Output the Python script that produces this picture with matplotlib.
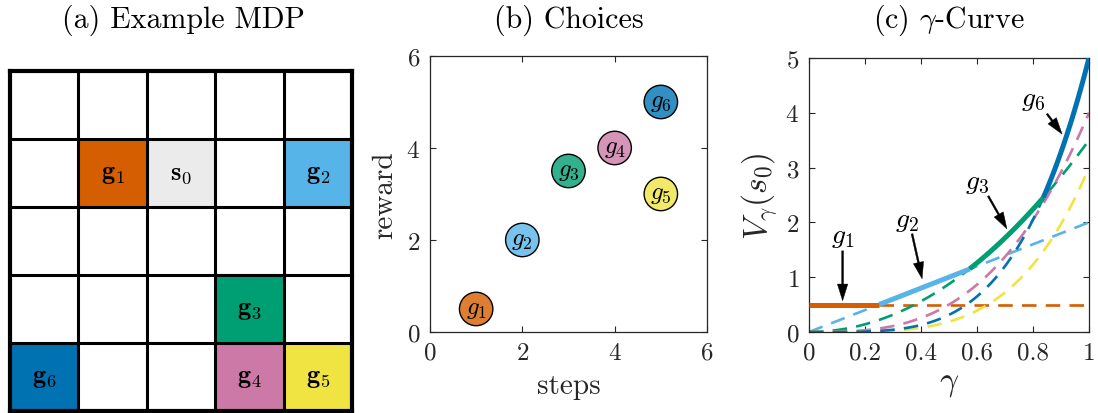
import numpy as np
import matplotlib
matplotlib.use("Agg")
import matplotlib.pyplot as plt
from matplotlib.patches import Rectangle

plt.rcParams['font.family'] = 'serif'
plt.rcParams['font.serif'] = ['cmr10']
plt.rcParams['mathtext.fontset'] = 'cm'
plt.rcParams['axes.formatter.use_mathtext'] = True
plt.rcParams['axes.unicode_minus'] = False

# ---- data ----
goal_names = ['g1', 'g2', 'g3', 'g4', 'g5', 'g6']
steps = [1, 2, 3, 4, 5, 5]
reward = [0.5, 2.0, 3.5, 4.0, 3.0, 5.0]
goal_colors = ['#D55E00', '#56B4E9', '#009E73', '#CC79A7', '#F0E442', '#0072B2']
# grid positions (row from top, col from left) of goals in the 5x5 MDP
goal_rows = [1, 1, 3, 4, 4, 4]
goal_cols = [1, 4, 3, 3, 4, 0]
start_row, start_col = 1, 2
grid_n = 5
# optimal goal per gamma interval (indices into goals)
envelope_order = [0, 1, 2, 5]

fig = plt.figure(figsize=(10.98, 4.14), dpi=100)
axcol = '#262626'
title_fs = 21.5
tick_fs = 18

# ---- (a) grid ----
axa = fig.add_axes([0.0091, 0.0048, 0.3115, 0.821])
axa.set_xlim(0, grid_n)
axa.set_ylim(grid_n, 0)
axa.axis('off')
for i, (r, c) in enumerate(zip(goal_rows, goal_cols)):
    axa.add_patch(Rectangle((c, r), 1, 1, facecolor=goal_colors[i], edgecolor='none'))
    axa.text(c + 0.5, r + 0.5, r'$\mathbf{g}_{\mathbf{%d}}$' % (i + 1), ha='center', va='center',
             fontsize=19, color='k')
axa.add_patch(Rectangle((start_col, start_row), 1, 1, facecolor='#EBEBEB', edgecolor='none'))
axa.text(start_col + 0.5, start_row + 0.5, r'$\mathbf{s}_{\mathbf{0}}$', ha='center', va='center',
         fontsize=19, color='k')
for k in range(grid_n + 1):
    lw = 3.0 if k in (0, grid_n) else 2.2
    axa.plot([k, k], [0, grid_n], color='k', lw=lw, solid_capstyle='projecting', clip_on=False)
    axa.plot([0, grid_n], [k, k], color='k', lw=lw, solid_capstyle='projecting', clip_on=False)
fig.text(0.1667, 0.950, '(a) Example MDP', ha='center', va='center', fontsize=title_fs)

# ---- (b) choices ----
axb = fig.add_axes([0.3916, 0.1957, 0.2523, 0.6667])
axb.scatter(steps, reward, s=580, c=goal_colors, alpha=0.8, edgecolors='none', zorder=3)
axb.scatter(steps, reward, s=580, facecolors='none', edgecolors='k', linewidths=1.0, zorder=4)
for i in range(len(steps)):
    axb.text(steps[i], reward[i], r'$g_{%d}$' % (i + 1), ha='center', va='center',
             fontsize=18, zorder=5)
axb.set_xlim(0, 6)
axb.set_ylim(0, 6)
axb.set_xticks([0, 2, 4, 6])
axb.set_yticks([0, 2, 4, 6])
axb.set_xlabel('steps', fontsize=21, color=axcol, labelpad=6)
axb.set_ylabel('reward', fontsize=21, color=axcol, labelpad=6)
fig.text(0.5178, 0.950, '(b) Choices', ha='center', va='center', fontsize=title_fs)

# ---- (c) gamma curve ----
axc = fig.add_axes([0.7368, 0.1957, 0.255, 0.662])
gam = np.linspace(0, 1, 400)
vals = [reward[i] * gam ** (steps[i] - 1) for i in range(len(steps))]
best = np.argmax(np.vstack(vals), axis=0)
for i in range(len(steps)):
    v = vals[i]
    if i == 0:
        mask = best != 0
        axc.plot(gam[mask], v[mask], color=goal_colors[i], lw=1.9, dashes=(5.5, 3.5), zorder=2)
    else:
        axc.plot(gam, v, color=goal_colors[i], lw=1.9, dashes=(5.5, 3.5), zorder=2)
for i in envelope_order:
    idx = np.where(best == i)[0]
    lo, hi = idx[0], min(idx[-1] + 1, len(gam) - 1)
    axc.plot(gam[lo:hi + 1], vals[i][lo:hi + 1], color=goal_colors[i], lw=3.6,
             solid_capstyle='butt', zorder=3)
axc.set_xlim(0, 1)
axc.set_ylim(0, 5)
axc.set_xticks([0, 0.2, 0.4, 0.6, 0.8, 1])
axc.set_xticklabels(['0', '0.2', '0.4', '0.6', '0.8', '1'])
axc.set_yticks([0, 1, 2, 3, 4, 5])
axc.set_xlabel(r'$\gamma$', fontsize=24, color=axcol, labelpad=4)
axc.set_ylabel(r'$V_\gamma(s_0)$', fontsize=24, color=axcol, labelpad=4)
fig.text(0.8640, 0.950, r'(c) $\gamma$-Curve', ha='center', va='center', fontsize=title_fs)

arrow_kw = dict(facecolor='k', edgecolor='k', linewidth=0.3, width=1.3, headwidth=7.5,
                headlength=12, shrink=0)
labels = [(0, (0.12, 1.76), (0.12, 1.48), (0.12, 0.57)),
          (1, (0.35, 2.05), (0.368, 1.79), (0.404, 0.97)),
          (2, (0.60, 2.74), (0.64, 2.48), (0.707, 1.88)),
          (5, (0.80, 4.25), (0.85, 3.98), (0.904, 3.61))]
for i, tpos, a0, a1 in labels:
    axc.text(tpos[0], tpos[1], r'$g_{%d}$' % (i + 1), ha='center', va='center', fontsize=20)
    axc.annotate('', xy=a1, xytext=a0, arrowprops=arrow_kw, zorder=4)

for ax in (axb, axc):
    ax.tick_params(direction='in', top=True, right=True, labelsize=tick_fs,
                   colors=axcol, length=4, width=0.8, pad=7)
    for s in ax.spines.values():
        s.set_color(axcol)
        s.set_linewidth(0.9)

fig.savefig('out.png', dpi=100)
